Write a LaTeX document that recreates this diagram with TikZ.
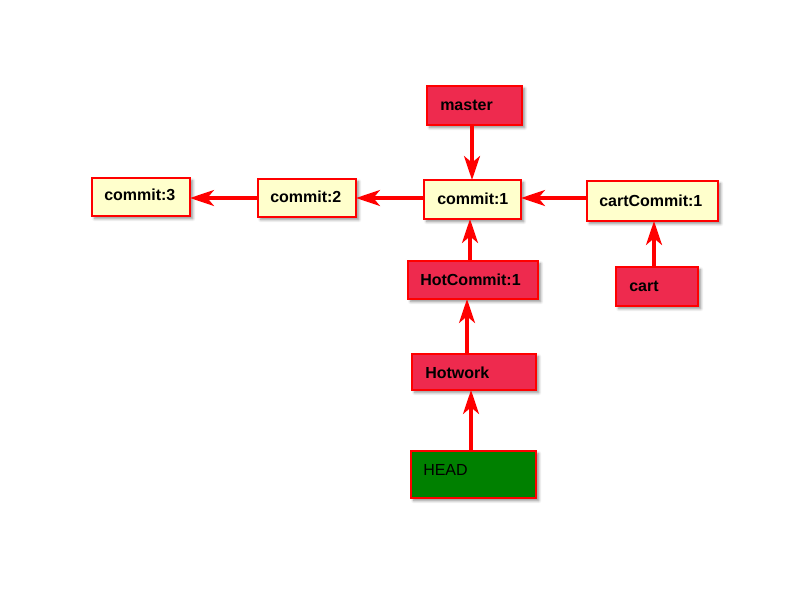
\documentclass[tikz,border=0pt]{standalone}
\usepackage{fontspec}
\setmainfont{Liberation Sans}
\usetikzlibrary{arrows.meta,shadows.blur}
\definecolor{crim}{HTML}{EE2A4E}
\definecolor{lyel}{HTML}{FFFFCC}
\definecolor{hgreen}{HTML}{008000}
\definecolor{bred}{HTML}{FF0000}
\begin{document}
\begin{tikzpicture}[x=0.75pt,y=-0.75pt,
  box/.style={draw=bred, line width=2.2pt, blur shadow={shadow xshift=2pt, shadow yshift=-2pt, shadow blur steps=5, shadow opacity=45}},
  yel/.style={box, fill=lyel},
  red/.style={box, fill=crim},
  grn/.style={box, fill=hgreen},
  lbl/.style={anchor=base west, font=\fontsize{12}{14}\selectfont\bfseries, inner sep=0pt},
  lblr/.style={anchor=base west, font=\fontsize{12}{14}\selectfont, inner sep=0pt},
  arr/.style={draw=bred, line width=2.4pt, -{Stealth[length=18pt, width=12pt, inset=5pt]}}
]
\useasboundingbox (0,0) rectangle (800,600);
% boxes
\path[red] (427,86) rectangle (522,125);
\node[lbl] (master) at (440,110) {master};
\coordinate (masterS) at (472,125);
\path[yel] (92,178) rectangle (190,216);
\node[lbl] (c3) at (104,200) {commit:3};
\coordinate (c3E) at (190,198);
\path[yel] (258,179) rectangle (356,217);
\node[lbl] (c2) at (270,202) {commit:2};
\coordinate (c2E) at (356,198);
\coordinate (c2W) at (258,198);
\path[yel] (424,180) rectangle (521,219);
\node[lbl] (c1) at (437,204) {commit:1};
\coordinate (c1N) at (472,180);
\coordinate (c1S) at (470,219);
\coordinate (c1E) at (521,198);
\coordinate (c1W) at (424,198);
\path[yel] (587,181) rectangle (718,221);
\node[lbl] (cc1) at (599,206) {cartCommit:1};
\coordinate (cc1W) at (587,198);
\coordinate (cc1S) at (654,221);
\path[red] (408,261) rectangle (538,299);
\node[lbl] (hc1) at (420,285) {HotCommit:1};
\coordinate (hc1N) at (470,261);
\coordinate (hc1S) at (467,299);
\path[red] (616,267) rectangle (698,306);
\node[lbl] (cart) at (629,291) {cart};
\coordinate (cartN) at (654,267);
\path[red] (412,354) rectangle (536,390);
\node[lbl] (hw) at (425,378) {Hotwork};
\coordinate (hwN) at (467,354);
\coordinate (hwS) at (471,390);
\path[grn] (411,451) rectangle (536,498);
\node[lblr] (head) at (423,475) {HEAD};
\coordinate (headN) at (471,451);
% arrows
\draw[arr] (masterS) -- (c1N);
\draw[arr] (c1W) -- (c2E);
\draw[arr] (c2W) -- (c3E);
\draw[arr] (cc1W) -- (c1E);
\draw[arr] (cartN) -- (cc1S);
\draw[arr] (hc1N) -- (c1S);
\draw[arr] (hwN) -- (hc1S);
\draw[arr] (headN) -- (hwS);
\end{tikzpicture}
\end{document}
